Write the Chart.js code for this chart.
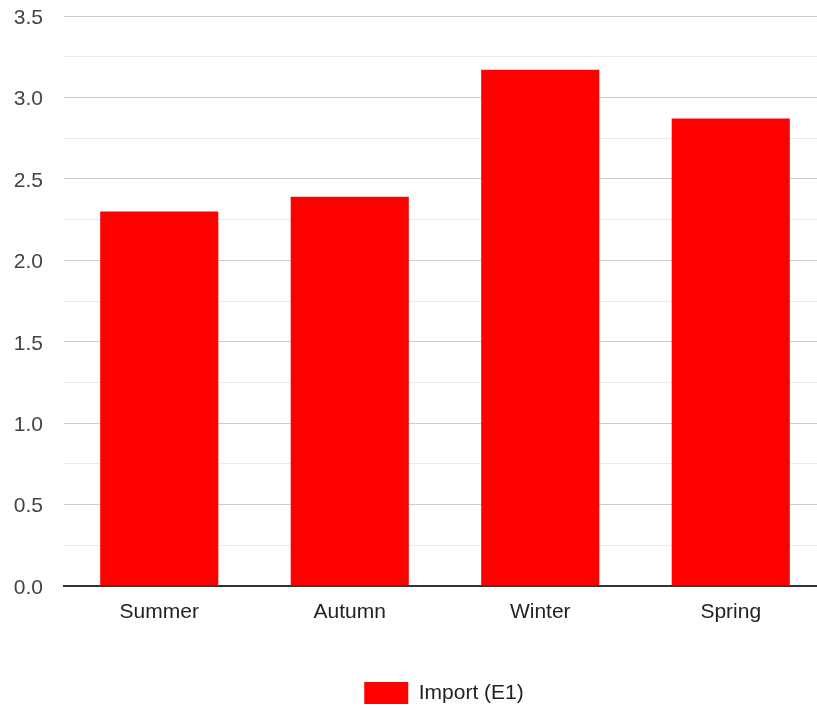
<!DOCTYPE html>
<html>
<head>
<meta charset="utf-8">
<script src="https://cdn.jsdelivr.net/npm/chart.js@4"></script>
<style>
  html, body { margin: 0; padding: 0; background: #fff; overflow: hidden; }
  #wrap { width: 826px; height: 710px; }
</style>
</head>
<body>
<div id="wrap"><canvas id="myChart"></canvas></div>
<script>
const seasons = ["Summer", "Autumn", "Winter", "Spring"];
const importE1 = [2.30, 2.39, 3.17, 2.87];
const seriesLabel = "Import (E1)";

// nudge the legend to the right like in the original
const shiftLegend = {
    id: 'shiftLegend',
    afterLayout(chart) {
        chart.legend.left += 31;
        chart.legend.right += 31;
    }
};

const isMajor = (v) => Math.abs(v * 2 - Math.round(v * 2)) < 1e-6;
const font = { family: 'Liberation Sans, Arial', size: 21 };

const ctx = document.getElementById('myChart').getContext('2d');
const chart = new Chart(ctx, {
    type: 'bar',
    data: {
        labels: seasons,
        datasets: [{
            label: seriesLabel,
            data: importE1,
            backgroundColor: '#ff0000',
            borderWidth: 0,
            categoryPercentage: 1,
            barPercentage: 0.62
        }]
    },
    options: {
        responsive: true,
        maintainAspectRatio: false,
        animation: false,
        layout: { padding: { left: 0, top: 0, right: 0, bottom: -4 } },
        scales: {
            x: {
                grid: { display: false },
                border: { display: true, color: '#333', width: 2 },
                ticks: { color: '#222', font: font, padding: 6 },
                afterFit: (scale) => { scale.height = 86; }
            },
            y: {
                min: 0,
                max: 3.5,
                border: { display: false },
                grid: {
                    drawTicks: false,
                    lineWidth: 1,
                    color: (c) => {
                        const v = c.tick ? c.tick.value : 0;
                        if (v === 0) return '#333';
                        return isMajor(v) ? '#cccccc' : '#ebebeb';
                    }
                },
                ticks: {
                    stepSize: 0.25,
                    autoSkip: false,
                    padding: 21,
                    labelOffset: 2,
                    color: '#444',
                    font: font,
                    callback: (v) => isMajor(v) ? Number(v).toFixed(1) : ''
                },
                afterFit: (scale) => {
                    scale.width = 64;
                    scale.paddingTop = 16;
                }
            }
        },
        plugins: {
            legend: {
                position: 'bottom',
                labels: {
                    boxWidth: 44,
                    boxHeight: 22,
                    color: '#222',
                    padding: 10,
                    font: font
                }
            },
            tooltip: { enabled: false }
        }
    },
    plugins: [shiftLegend]
});
</script>
</body>
</html>
